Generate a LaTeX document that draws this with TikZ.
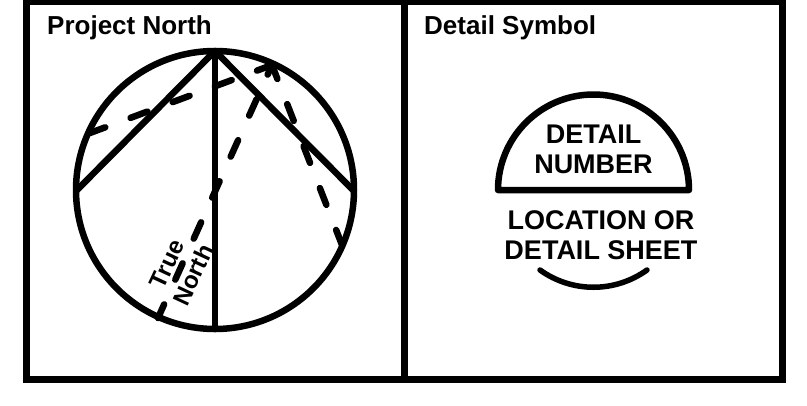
\documentclass[tikz,border=0pt]{standalone}
\usepackage{fontspec}
\setmainfont{Liberation Sans}
\begin{document}
\begin{tikzpicture}[x=1pt,y=-1pt,
  heavy/.style={line width=6.5pt,line cap=round,line join=round},
  framing/.style={line width=7pt,line join=miter},
  dashline/.style={line width=6.5pt,line cap=round,dash pattern=on 18pt off 27pt},
  title/.style={font=\bfseries\fontsize{26}{26}\selectfont,anchor=base west,inner sep=0pt},
  label/.style={font=\bfseries\fontsize{27}{30}\selectfont,align=center,inner sep=0pt},
  small/.style={font=\bfseries\fontsize{24}{24}\selectfont,inner sep=0pt,rotate=65}]
\useasboundingbox (0,0) rectangle (807,405);
\fill[white] (0,0) rectangle (807,405);
\clip (0,0) rectangle (807,405);
\coordinate (fa) at (26.5,1); \coordinate (fb) at (782.5,379);
\coordinate (da) at (404,1); \coordinate (db) at (404,379);
\draw[framing] (fa) rectangle (fb);
\draw[framing] (da) -- (db);
\node[title] (tpn) at (47,34) {Project North};
\node[title] (tds) at (424,34) {Detail Symbol};
% circle
\coordinate (c) at (215,190);
\draw[heavy] (c) circle (139);
\coordinate (apex) at (215,51); \coordinate (bot) at (215,329);
\coordinate (le) at (77,190); \coordinate (re) at (353,190);
\draw[heavy] (le) -- (apex) -- (re);
\draw[heavy] (apex) -- (bot);
% rotated dashed triangle
\coordinate (dap) at (272,65); \coordinate (dbot) at (158,318);
\coordinate (dle) at (90,133); \coordinate (dre) at (342,245);
\draw[dashline,dash phase=3pt] (dbot) -- (dap);
\draw[dashline,dash phase=2pt] (dap) -- (dle);
\draw[dashline,dash phase=3pt] (dap) -- (dre);
\node[small] (ntrue) at (167,264) {True};
\node[small] (nnorth) at (193,275) {North};
% detail symbol
\coordinate (sl) at (498,190); \coordinate (sr) at (689,190);
\draw[heavy] (sl) arc[start angle=180,end angle=360,radius=95.5] -- cycle;
\node[label] (dn) at (593.5,149) {DETAIL\\NUMBER};
\node[label] (loc) at (601,235.5) {LOCATION OR\\DETAIL SHEET};
\coordinate (al) at (540,270); \coordinate (ar) at (647,270);
\coordinate (ca) at (572,293); \coordinate (cb) at (615,293);
\draw[line width=5.5pt,line cap=round] (al) .. controls (ca) and (cb) .. (ar);
\end{tikzpicture}
\end{document}
